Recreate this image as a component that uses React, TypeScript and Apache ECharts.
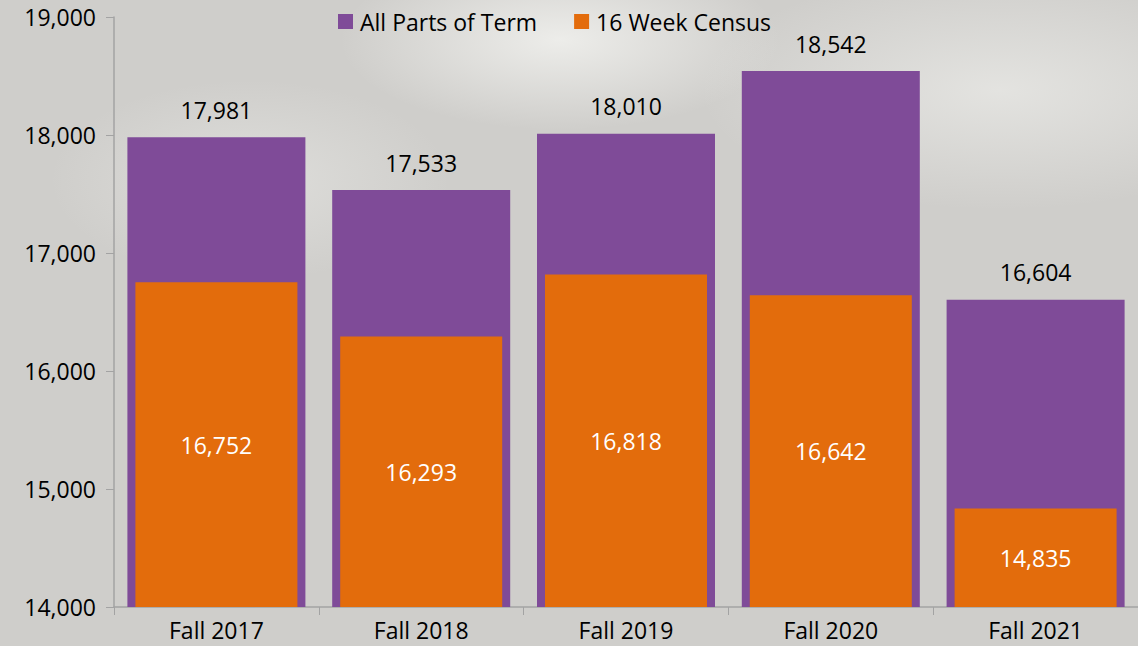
import React, { useEffect, useRef } from "react";
import * as echarts from "echarts";

const categories = ["Fall 2017", "Fall 2018", "Fall 2019", "Fall 2020", "Fall 2021"];
const allPartsOfTerm = [17981, 17533, 18010, 18542, 16604];
const sixteenWeekCensus = [16752, 16293, 16818, 16642, 14835];
const yTicks = { min: 14000, max: 19000, interval: 1000 };

const FONT = "'Open Sans', sans-serif";
const FS = 23;

export default function App() {
  const ref = useRef<HTMLDivElement>(null);
  useEffect(() => {
    document.body.style.margin = "0";
    const chart = echarts.init(ref.current!, null, { renderer: "svg" });
    const fmt = (v: number) => v.toLocaleString("en-US");
    chart.setOption({
      animation: false,
      backgroundColor: "transparent",
      textStyle: { fontFamily: FONT },
      legend: {
        top: 10,
        left: 338,
        itemWidth: 15,
        itemHeight: 15,
        itemGap: 37,
        padding: 0,
        icon: "rect",
        textStyle: { fontSize: FS, color: "#000", fontFamily: FONT, padding: [0, 0, 0, 2] },
        data: ["All Parts of Term", "16 Week Census"],
      },
      grid: { left: 114, right: 0, top: 17, bottom: 39, containLabel: false },
      xAxis: [
        {
          type: "category",
          data: categories,
          axisLine: { lineStyle: { color: "#a3a3a3", width: 1.5 } },
          axisTick: { show: true, length: 8, lineStyle: { color: "#a3a3a3" } },
          axisLabel: { fontSize: FS, lineHeight: 23, color: "#000", margin: 11, fontFamily: FONT },
        },
        {
          type: "category",
          data: categories,
          show: false,
          position: "bottom",
        },
      ],
      yAxis: {
        type: "value",
        min: yTicks.min,
        max: yTicks.max,
        interval: yTicks.interval,
        splitLine: { show: false },
        axisLine: { show: true, lineStyle: { color: "#a3a3a3", width: 1.5 } },
        axisTick: { show: true, length: 8, lineStyle: { color: "#a3a3a3" } },
        axisLabel: { fontSize: FS, color: "#000", margin: 18, formatter: fmt, fontFamily: FONT },
      },
      series: [
        {
          name: "All Parts of Term",
          type: "bar",
          xAxisIndex: 0,
          data: allPartsOfTerm,
          barWidth: 178,
          itemStyle: { color: "#7f4b98" },
          label: {
            show: true,
            position: "top",
            distance: 16,
            fontSize: FS,
            color: "#000",
            fontFamily: FONT,
            formatter: (p: any) => fmt(p.value),
          },
          z: 1,
        },
        {
          name: "16 Week Census",
          type: "bar",
          xAxisIndex: 1,
          data: sixteenWeekCensus,
          barWidth: 162,
          itemStyle: { color: "#e36c0c" },
          label: {
            show: true,
            position: "inside",
            fontSize: FS,
            color: "#fff",
            fontFamily: FONT,
            formatter: (p: any) => fmt(p.value),
          },
          z: 2,
        },
      ],
    });
    return () => chart.dispose();
  }, []);
  return (
    <div
      style={{
        position: "absolute",
        left: 0,
        top: 0,
        width: 1138,
        height: 646,
        background:
          "radial-gradient(ellipse 220px 90px at 560px 40px, rgba(240,240,237,0.9), rgba(240,240,237,0) 100%), radial-gradient(ellipse 300px 120px at 1000px 90px, rgba(236,236,233,0.7), rgba(236,236,233,0) 100%), radial-gradient(ellipse 200px 100px at 250px 180px, rgba(232,232,229,0.6), rgba(232,232,229,0) 100%), #cfcecb",
      }}
    >
      <div ref={ref} style={{ width: 1138, height: 646 }} />
    </div>
  );
}
